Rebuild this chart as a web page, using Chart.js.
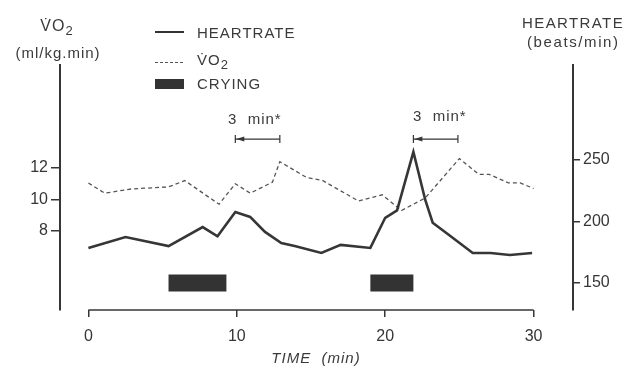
<!DOCTYPE html>
<html>
<head>
<meta charset="utf-8">
<script src="https://cdn.jsdelivr.net/npm/chart.js@4"></script>
<style>
  body { margin: 0; background: #fff; }
  #wrap { position: relative; width: 625px; height: 366px; overflow: hidden;
          font-family: "Liberation Sans", "DejaVu Sans", sans-serif; color: #3a3a3a; }
  #wrap canvas { position: absolute; left: 0; top: 0; }
  .t { position: absolute; white-space: nowrap; line-height: 1; font-size: 15px; letter-spacing: 1px; }
  .c { transform: translateX(-50%); }
  sub { font-size: 13px; vertical-align: -4px; line-height: 0; }
  .swatch { position: absolute; }
</style>
</head>
<body>
<div id="wrap">
  <canvas id="chart" width="625" height="366"></canvas>

  <div class="t c" style="left:57px; top:18px; font-size:16px;">V&#775;O<sub>2</sub></div>
  <div class="t c" style="left:58px; top:45px;">(ml/kg.min)</div>
  <div class="t" style="left:522px; top:15px; letter-spacing:1.4px;">HEARTRATE</div>
  <div class="t" style="left:527px; top:34px; letter-spacing:1.6px;">(beats/min)</div>

  <div class="swatch" style="left:155px; top:31px; width:29px; height:2px; background:#333;"></div>
  <div class="t" style="left:197px; top:25px;">HEARTRATE</div>
  <div class="swatch" style="left:155px; top:62px; width:28px; border-top:1.5px dashed #555;"></div>
  <div class="t" style="left:197px; top:52px;">V&#775;O<sub>2</sub></div>
  <div class="swatch" style="left:155px; top:79px; width:29px; height:10px; background:#333;"></div>
  <div class="t" style="left:197px; top:76px;">CRYING</div>

  <div class="t" style="left:228px; top:111px;">3&nbsp; min*</div>
  <div class="t" style="left:413px; top:108px;">3&nbsp; min*</div>

  <div class="t c" style="left:316px; top:350px; font-style:italic;">TIME&nbsp; (min)</div>
</div>

<script>
// ── Data ──
var TIME_TICKS = [0, 10, 20, 30];
var VO2_TICKS = [8, 10, 12];
var HR_TICKS = [150, 200, 250];

var hrTime   = [0, 2.5, 5.4, 7.7, 8.7, 9.9, 10.9, 11.9, 13.0, 13.9, 15.7, 17.0, 19.0, 20.0, 20.8, 21.9, 22.7, 23.2, 24.3, 25.9, 27.1, 28.4, 29.9];
var hrValues = [178.5, 187.4, 180, 195.5, 188, 207.7, 203.7, 191.5, 182.5, 180, 174.4, 181, 178.5, 203, 209, 256.5, 217.5, 199, 189, 174.4, 174.4, 172.8, 174.4];

var vo2Time   = [0, 1.1, 2.9, 5.4, 6.5, 8.8, 9.9, 10.9, 12.4, 12.9, 14.7, 15.8, 18.2, 19.8, 21.1, 22.7, 25.0, 26.3, 27.0, 28.3, 29.1, 30.0];
var vo2Values = [11.05, 10.4, 10.67, 10.8, 11.2, 9.7, 11.0, 10.4, 11.1, 12.4, 11.4, 11.2, 9.9, 10.3, 9.3, 10.1, 12.6, 11.6, 11.6, 11.05, 11.05, 10.7];

var cryingStart = [5.4, 19.0];
var cryingEnd   = [9.3, 21.9];
var CRYING_LEVEL = 4.7;          // on the VO2 axis

var starMarks = [9.9, 21.9];     // "3 min*" brackets start here
var STAR_LENGTH = 3;
var STAR_LEVEL = 267;            // on the heart-rate axis

var INK = '#363636';

function pairs(xs, ys) {
  var out = [];
  for (var i = 0; i < xs.length; i++) out.push({ x: xs[i], y: ys[i] });
  return out;
}

function cryingPoints() {
  var out = [];
  for (var i = 0; i < cryingStart.length; i++) {
    if (i > 0) out.push({ x: (cryingEnd[i - 1] + cryingStart[i]) / 2, y: null });
    out.push({ x: cryingStart[i], y: CRYING_LEVEL });
    out.push({ x: cryingEnd[i], y: CRYING_LEVEL });
  }
  return out;
}

function fixedTicks(values) {
  return function(scale) {
    scale.ticks = values.map(function(v) { return { value: v }; });
  };
}

// ── x axis line and "3 min*" brackets ──
var overlay = {
  id: 'overlay',
  afterDraw: function(chart) {
    var ctx = chart.ctx;
    var xs = chart.scales.x;
    var hr = chart.scales.yHR;
    var yb = chart.chartArea.bottom;
    ctx.save();
    ctx.strokeStyle = INK;
    ctx.fillStyle = INK;
    ctx.lineWidth = 1.6;
    ctx.beginPath();
    ctx.moveTo(xs.getPixelForValue(TIME_TICKS[0]), yb);
    ctx.lineTo(xs.getPixelForValue(TIME_TICKS[TIME_TICKS.length - 1]), yb);
    ctx.stroke();

    ctx.lineWidth = 1.2;
    for (var i = 0; i < starMarks.length; i++) {
      var x0 = xs.getPixelForValue(starMarks[i]);
      var x1 = xs.getPixelForValue(starMarks[i] + STAR_LENGTH);
      var y = hr.getPixelForValue(STAR_LEVEL);
      ctx.beginPath();
      ctx.moveTo(x0, y); ctx.lineTo(x1, y);
      ctx.moveTo(x0, y - 4); ctx.lineTo(x0, y + 4);
      ctx.moveTo(x1, y - 4); ctx.lineTo(x1, y + 4);
      ctx.stroke();
      ctx.beginPath();
      ctx.moveTo(x0 + 1, y); ctx.lineTo(x0 + 9, y - 2.5); ctx.lineTo(x0 + 9, y + 2.5);
      ctx.closePath();
      ctx.fill();
    }
    ctx.restore();
  }
};

var tickFont = { family: '"Liberation Sans", "DejaVu Sans", sans-serif', size: 16 };

new Chart(document.getElementById('chart'), {
  type: 'line',
  data: {
    datasets: [
      {
        label: 'HEARTRATE',
        data: pairs(hrTime, hrValues),
        yAxisID: 'yHR',
        borderColor: INK,
        borderWidth: 2.6,
        pointRadius: 0,
        tension: 0
      },
      {
        label: 'VO2',
        data: pairs(vo2Time, vo2Values),
        yAxisID: 'yVO2',
        borderColor: '#555',
        borderWidth: 1.3,
        borderDash: [4, 3],
        pointRadius: 0,
        tension: 0
      },
      {
        label: 'CRYING',
        data: cryingPoints(),
        yAxisID: 'yVO2',
        borderColor: '#333',
        borderWidth: 17,
        borderCapStyle: 'butt',
        pointRadius: 0,
        spanGaps: false
      }
    ]
  },
  options: {
    responsive: false,
    animation: false,
    devicePixelRatio: 1,
    layout: { padding: { top: 65, left: 0, right: 0, bottom: 0 } },
    plugins: { legend: { display: false }, tooltip: { enabled: false } },
    scales: {
      x: {
        type: 'linear',
        min: -1.914,
        max: 32.655,
        afterBuildTicks: fixedTicks(TIME_TICKS),
        afterFit: function(s) { s.height = 56; },
        border: { display: false },
        grid: { drawOnChartArea: false, drawTicks: true, tickLength: 7, color: INK, lineWidth: 1.5 },
        ticks: { color: INK, font: tickFont, padding: 10, maxRotation: 0 }
      },
      yVO2: {
        type: 'linear',
        position: 'left',
        min: 2.984,
        max: 18.54,
        afterBuildTicks: fixedTicks(VO2_TICKS),
        afterFit: function(s) { s.width = 60; },
        border: { display: true, color: INK, width: 2 },
        grid: { drawOnChartArea: false, drawTicks: true, tickLength: 9, color: INK, lineWidth: 1.5 },
        ticks: { color: INK, font: tickFont, padding: 3 }
      },
      yHR: {
        type: 'linear',
        position: 'right',
        min: 128.05,
        max: 327.2,
        afterBuildTicks: fixedTicks(HR_TICKS),
        afterFit: function(s) { s.width = 52; },
        border: { display: true, color: INK, width: 2 },
        grid: { drawOnChartArea: false, drawTicks: true, tickLength: 7, color: INK, lineWidth: 1.5 },
        ticks: { color: INK, font: tickFont, padding: 3 }
      }
    }
  },
  plugins: [overlay]
});
</script>
</body>
</html>
